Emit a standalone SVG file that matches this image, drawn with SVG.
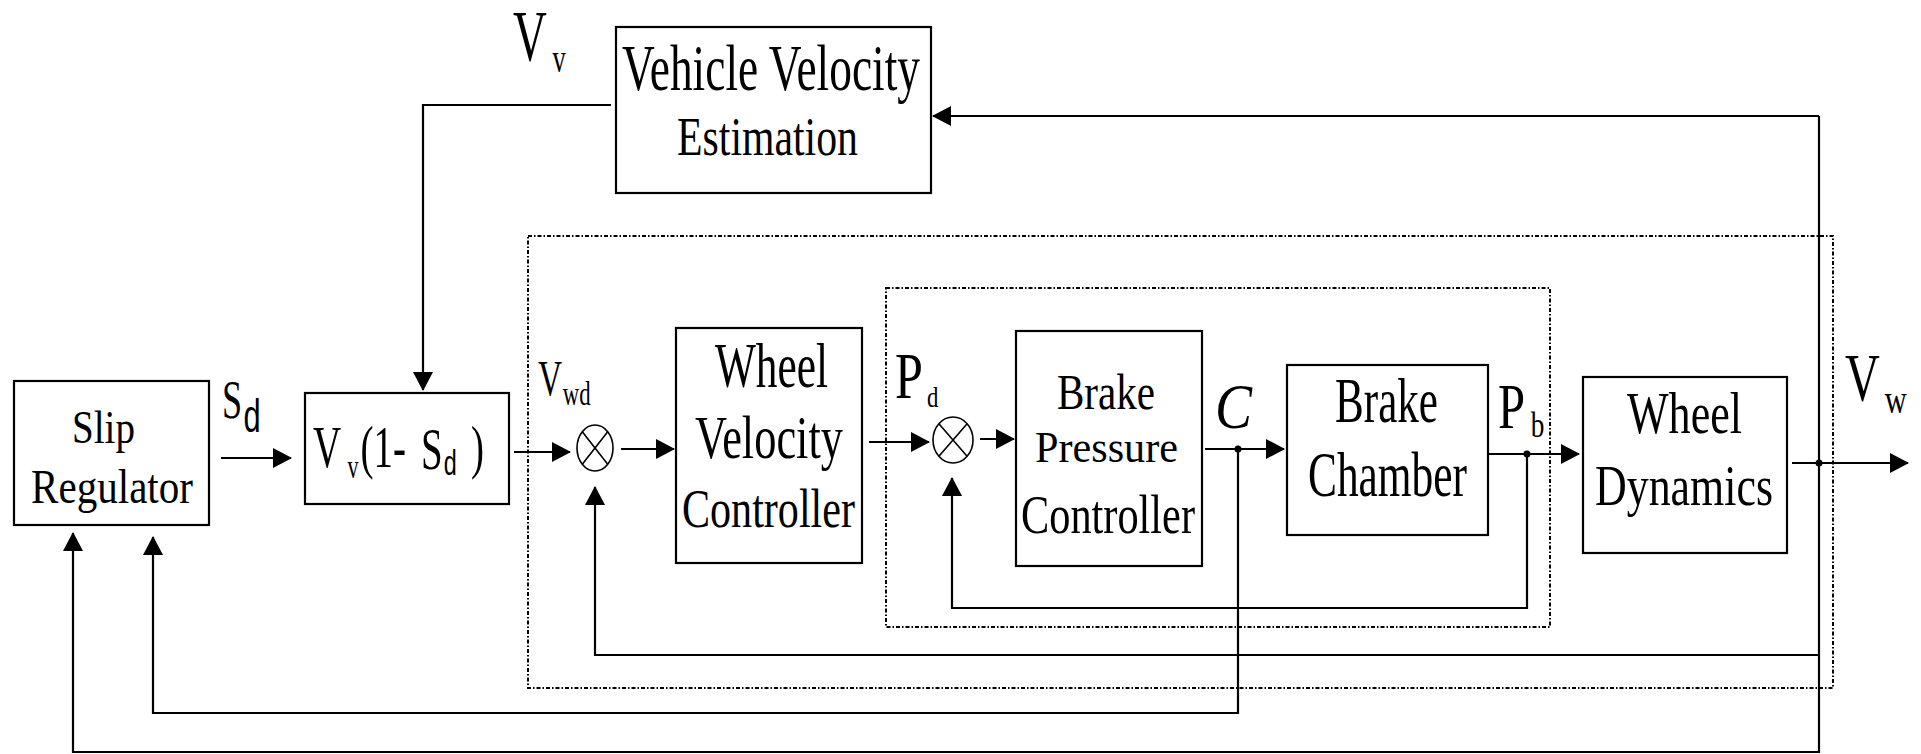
<svg xmlns="http://www.w3.org/2000/svg" width="1921" height="754" viewBox="0 0 1921 754">
<style>
.box{fill:#fff;stroke:#000;stroke-width:2.2}
.dot{fill:none;stroke:#000;stroke-width:2;stroke-dasharray:4 2 1.5 2}
.ln{fill:none;stroke:#000;stroke-width:2.2}
.t{font-family:"Liberation Serif","Times New Roman",serif;fill:#000}
.s{font-family:"Liberation Sans",Arial,sans-serif;fill:#000}
.sum{fill:#fff;stroke:#000;stroke-width:1.6}
</style>
<defs>
<marker id="ah" markerWidth="19" markerHeight="20" refX="18" refY="10" orient="auto" markerUnits="userSpaceOnUse">
<path d="M0,0 L19,10 L0,20 z" fill="#000"/>
</marker>
</defs>
<rect width="1921" height="754" fill="#fff"/>

<g id="dotted-frames">
<rect class="dot" x="528" y="236" width="1305" height="452"/>
<rect class="dot" x="886" y="288" width="664" height="339"/>
</g>

<g id="connectors">
<path class="ln" d="M611,105 H423 V390" marker-end="url(#ah)"/>
<path class="ln" d="M1819,116 H933" marker-end="url(#ah)"/>
<path class="ln" d="M1819,116 V752 H73 V533" marker-end="url(#ah)"/>
<path class="ln" d="M221,458 H291" marker-end="url(#ah)"/>
<path class="ln" d="M514,452 H570" marker-end="url(#ah)"/>
<path class="ln" d="M621,449 H674" marker-end="url(#ah)"/>
<path class="ln" d="M869,442 H929" marker-end="url(#ah)"/>
<path class="ln" d="M980,439 H1014" marker-end="url(#ah)"/>
<path class="ln" d="M1205,449 H1284" marker-end="url(#ah)"/>
<path class="ln" d="M1488,454 H1579" marker-end="url(#ah)"/>
<path class="ln" d="M1792,463 H1908" marker-end="url(#ah)"/>
<path class="ln" d="M1527,454 V608 H952 V478" marker-end="url(#ah)"/>
<path class="ln" d="M1819,655 H595 V487" marker-end="url(#ah)"/>
<path class="ln" d="M1238,449 V713 H153 V537" marker-end="url(#ah)"/>
<circle cx="1238" cy="449" r="3.5"/>
<circle cx="1527" cy="454" r="3.5"/>
<circle cx="1819" cy="463" r="3.5"/>
</g>

<g id="label-vv">
<text class="t" transform="translate(513,60) scale(0.66,1)"><tspan x="0" y="0" font-size="71">V</tspan><tspan x="60" y="12" font-size="40">v</tspan></text>
</g>

<g id="vehicle-velocity-estimation">
<rect class="box" x="616" y="27" width="315" height="166"/>
<text class="t" x="622" y="90" font-size="66" textLength="298" lengthAdjust="spacingAndGlyphs">Vehicle Velocity</text>
<text class="t" x="677" y="155" font-size="54" textLength="181" lengthAdjust="spacingAndGlyphs">Estimation</text>
</g>

<g id="slip-regulator">
<rect class="box" x="14" y="381" width="195" height="144"/>
<text class="t" x="72" y="443" font-size="47" textLength="63" lengthAdjust="spacingAndGlyphs">Slip</text>
<text class="t" x="31" y="503" font-size="48" textLength="162" lengthAdjust="spacingAndGlyphs">Regulator</text>
</g>

<g id="label-sd">
<text class="t" transform="translate(222,418) scale(0.67,1)"><tspan x="0" y="0" font-size="54">S</tspan><tspan class="s" x="32" y="14" font-size="46">d</tspan></text>
</g>

<g id="desired-wheel-velocity">
<rect class="box" x="305" y="393" width="204" height="111"/>
<text class="t" transform="translate(313,467) scale(0.65,1)"><tspan x="0" y="0" font-size="60">V</tspan><tspan x="53" y="11" font-size="34">v</tspan><tspan x="73" y="0" font-size="60">(1-</tspan><tspan x="166" y="2" font-size="60">S</tspan><tspan class="s" x="201" y="8" font-size="36">d</tspan><tspan x="243" y="0" font-size="60">)</tspan></text>
</g>

<g id="label-vwd">
<text class="t" transform="translate(538,395) scale(0.67,1)"><tspan x="0" y="0" font-size="50">V</tspan><tspan x="37" y="10" font-size="34">wd</tspan></text>
</g>

<g id="sum1">
<ellipse class="sum" cx="595" cy="448" rx="18" ry="23"/>
<path class="sum" d="M582.3,431.7 L607.7,464.3 M607.7,431.7 L582.3,464.3"/>
</g>

<g id="wheel-velocity-controller">
<rect class="box" x="676" y="328" width="186" height="235"/>
<text class="t" x="715" y="387" font-size="63" textLength="113" lengthAdjust="spacingAndGlyphs">Wheel</text>
<text class="t" x="695" y="458" font-size="62" textLength="148" lengthAdjust="spacingAndGlyphs">Velocity</text>
<text class="t" x="682" y="527" font-size="54" textLength="173" lengthAdjust="spacingAndGlyphs">Controller</text>
</g>

<g id="label-pd">
<text class="t" transform="translate(895,398) scale(0.76,1)"><tspan x="0" y="0" font-size="66">P</tspan><tspan x="42" y="9" font-size="30">d</tspan></text>
</g>

<g id="sum2">
<ellipse class="sum" cx="953" cy="440" rx="20" ry="23"/>
<path class="sum" d="M938.9,423.7 L967.1,456.3 M967.1,423.7 L938.9,456.3"/>
</g>

<g id="brake-pressure-controller">
<rect class="box" x="1016" y="331" width="186" height="235"/>
<text class="t" x="1057" y="409" font-size="50" textLength="98" lengthAdjust="spacingAndGlyphs">Brake</text>
<text class="t" x="1035" y="462" font-size="44" textLength="143" lengthAdjust="spacingAndGlyphs">Pressure</text>
<text class="t" x="1021" y="533" font-size="55" textLength="174" lengthAdjust="spacingAndGlyphs">Controller</text>
</g>

<g id="label-c">
<text class="t" x="1215" y="428" font-size="64" font-style="italic" textLength="37" lengthAdjust="spacingAndGlyphs">C</text>
</g>

<g id="brake-chamber">
<rect class="box" x="1287" y="365" width="201" height="170"/>
<text class="t" x="1335" y="422" font-size="63" textLength="103" lengthAdjust="spacingAndGlyphs">Brake</text>
<text class="t" transform="translate(1308,496) scale(0.678,1)" font-size="64">Chamber</text>
</g>

<g id="label-pb">
<text class="t" transform="translate(1498,428) scale(0.76,1)"><tspan x="0" y="0" font-size="64">P</tspan><tspan x="43" y="9" font-size="36">b</tspan></text>
</g>

<g id="wheel-dynamics">
<rect class="box" x="1583" y="377" width="204" height="176"/>
<text class="t" x="1627" y="433" font-size="60" textLength="115" lengthAdjust="spacingAndGlyphs">Wheel</text>
<text class="t" x="1595" y="505" font-size="58" textLength="178" lengthAdjust="spacingAndGlyphs">Dynamics</text>
</g>

<g id="label-vw">
<text class="t" transform="translate(1845,400) scale(0.71,1)"><tspan x="0" y="0" font-size="68">V</tspan><tspan x="56" y="13" font-size="43">w</tspan></text>
</g>
</svg>
